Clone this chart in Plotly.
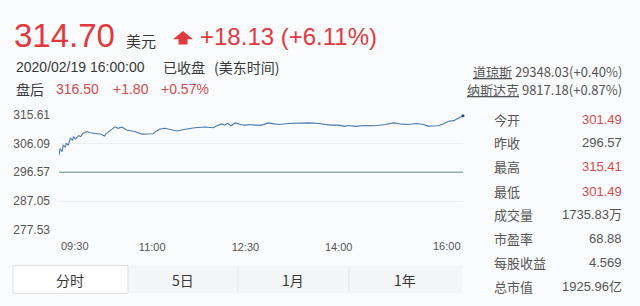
import plotly.graph_objects as go

# ---------------- data ----------------
minutes = [0, 1, 3, 4, 6, 7, 9, 11, 13, 14, 16, 19, 21, 23, 27, 30, 35, 40, 44, 45,
           49, 54, 57, 61, 65, 73, 80, 86, 91, 93, 97, 102, 107, 114, 122, 131, 141,
           149, 152, 157, 160, 163, 166, 170, 175, 180, 184, 189, 196, 202, 208, 213,
           221, 231, 241, 249, 254, 262, 270, 276, 279, 286, 295, 305, 315, 323, 331,
           337, 345, 352, 356, 366, 371, 376, 381, 385, 390]
prices = [302.10, 304.40, 303.32, 305.45, 304.91, 306.18, 305.45, 307.90, 307.04, 308.31,
          307.58, 308.63, 308.31, 309.36, 309.99, 309.58, 309.36, 309.17, 308.53, 309.17,
          310.21, 311.58, 311.07, 311.48, 310.53, 309.99, 309.17, 309.17, 309.26, 309.99,
          310.75, 311.07, 310.75, 310.21, 310.75, 311.26, 311.48, 311.26, 311.80, 312.53,
          312.12, 312.75, 311.90, 312.85, 312.34, 312.12, 312.34, 312.12, 312.12, 312.85,
          312.53, 312.34, 312.66, 312.85, 312.85, 312.75, 312.53, 312.12, 312.12, 311.71,
          312.02, 311.71, 312.02, 311.90, 312.34, 312.85, 312.44, 312.34, 312.66, 312.34,
          311.80, 311.90, 312.53, 313.39, 313.61, 314.24, 315.20]
prev_close = 296.57
y_ticks = [277.53, 287.05, 296.57, 306.09, 315.61]
x_tick_minutes = [0, 90, 180, 270, 390]
x_tick_labels = ["09:30", "11:00", "12:30", "14:00", "16:00"]

stat_labels = ["今开", "昨收", "最高", "最低", "成交量", "市盈率", "每股收益", "总市值"]
stat_values = ["301.49", "296.57", "315.41", "301.49", "1735.83万", "68.88", "4.569", "1925.96亿"]
stat_red = [True, False, True, True, False, False, False, False]
tabs = ["分时", "5日", "1月", "1年"]

# ---------------- helpers ----------------
W, H = 640, 306
def X(px):
    return px / W
def Y(py):
    return 1 - py / H

RED = "#e0393e"
RED2 = "#d24b4f"
DARK = "#383838"
GRAY = "#555555"
LAT = "Liberation Sans, Arial, sans-serif"
CJK = "Noto Sans CJK SC, sans-serif"

fig = go.Figure()

fig.add_trace(go.Scatter(x=[minutes[0], minutes[-1]], y=[prev_close, prev_close],
                         mode="lines", line=dict(color="#8eaea8", width=1.6),
                         hoverinfo="skip", showlegend=False))
fig.add_trace(go.Scatter(x=minutes, y=prices, mode="lines",
                         line=dict(color="#4a7ab0", width=1.1), showlegend=False))
fig.add_trace(go.Scatter(x=[minutes[-1]], y=[prices[-1]], mode="markers",
                         marker=dict(color="#2b4a73", size=3), showlegend=False,
                         cliponaxis=False))

# plot area geometry (pixels)
px_left, px_right = 59, 463
yr = [277.2, 315.9]

anns = []
def txt(text, x, y, size, color=DARK, family=LAT, xanchor="left", yanchor="middle", xref="paper", yref="paper"):
    anns.append(dict(text=text, x=x, y=y, xref=xref, yref=yref, xanchor=xanchor,
                     yanchor=yanchor, showarrow=False,
                     font=dict(size=size, color=color, family=family)))

# x-axis edge tick labels
txt(x_tick_labels[0], x_tick_minutes[0], Y(250), 11, GRAY, xanchor="left", xref="x")
txt(x_tick_labels[-1], x_tick_minutes[-1], Y(250), 11, GRAY, xanchor="right", xref="x")

# header
txt("314.70", X(12), Y(31), 33, RED)
txt("美元", X(124), Y(36), 15, DARK, CJK)
txt("+18.13 (+6.11%)", X(198), Y(32), 24, RED)
txt("2020/02/19 16:00:00", X(14), Y(64), 14, DARK)
txt("已收盘", X(161), Y(64), 14, DARK, CJK)
txt("(美东时间)", X(212), Y(64), 14, DARK, CJK)
txt("盘后", X(14), Y(86), 14, DARK, CJK)
txt("316.50", X(54), Y(86), 14, RED2)
txt("+1.80", X(111), Y(86), 14, RED2)
txt("+0.57%", X(159), Y(86), 14, RED2)

# index quotes
txt("<u>道琼斯</u> 29348.03(+0.40%)", X(624), Y(68), 13, GRAY, CJK, xanchor="right")
txt("<u>纳斯达克</u> 9817.18(+0.87%)", X(624), Y(87), 13, GRAY, CJK, xanchor="right")

# stats
stat_y = [118, 142, 167, 193, 217.5, 242, 266.5, 291.5]
for lab, val, red, yy in zip(stat_labels, stat_values, stat_red, stat_y):
    txt(lab, X(492), Y(yy), 13, GRAY, CJK)
    txt(val, X(624), Y(yy), 13, RED2 if red else GRAY, LAT + ", " + CJK, xanchor="right")

# tabs
shapes = []
shapes.append(dict(type="rect", xref="paper", yref="paper", x0=X(13), x1=X(462),
                   y0=Y(299), y1=Y(270), fillcolor="#f4f5f7", line=dict(width=0), layer="below"))
shapes.append(dict(type="rect", xref="paper", yref="paper", x0=X(13), x1=X(128),
                   y0=Y(299), y1=Y(270), fillcolor="#ffffff", line=dict(color="#dcdde0", width=1),
                   layer="below"))
for dx in [238, 349]:
    shapes.append(dict(type="line", xref="paper", yref="paper", x0=X(dx), x1=X(dx),
                       y0=Y(297), y1=Y(272), line=dict(color="#e6e7ea", width=1)))
tab_centers = [70, 183, 293, 405]
for t, cx in zip(tabs, tab_centers):
    txt(t, X(cx), Y(285), 14, DARK, CJK, xanchor="center")

# up arrow
ax = [(183, 26), (193, 34.5), (187.5, 34.5), (187.5, 40), (178.5, 40), (178.5, 34.5), (173, 34.5)]
path = "M " + " L ".join(f"{X(a):.5f},{Y(b):.5f}" for a, b in ax) + " Z"
shapes.append(dict(type="path", xref="paper", yref="paper", path=path,
                   fillcolor=RED, line=dict(width=0)))

fig.update_layout(
    width=W, height=H, autosize=False,
    margin=dict(l=0, r=0, t=0, b=0),
    paper_bgcolor="#fafbfc", plot_bgcolor="#fafbfc",
    showlegend=False,
    annotations=anns, shapes=shapes,
    xaxis=dict(domain=[X(px_left), X(px_right)], range=[minutes[0], minutes[-1]],
               tickvals=x_tick_minutes[1:-1], ticktext=x_tick_labels[1:-1],
               showgrid=False, zeroline=False, showline=False, ticks="",
               ticklabelstandoff=8,
               tickfont=dict(size=11, color=GRAY, family=LAT), fixedrange=True),
    yaxis=dict(domain=[Y(234.04), Y(112.09)], range=yr,
               tickvals=y_ticks, ticktext=[f"{v:.2f}" for v in y_ticks],
               showgrid=True, gridcolor="#eceef1", gridwidth=1,
               zeroline=False, showline=False, ticks="", ticklabelstandoff=8,
               tickfont=dict(size=12, color=GRAY, family=LAT), fixedrange=True),
)

fig.write_html("out.html", config={"displayModeBar": False})
